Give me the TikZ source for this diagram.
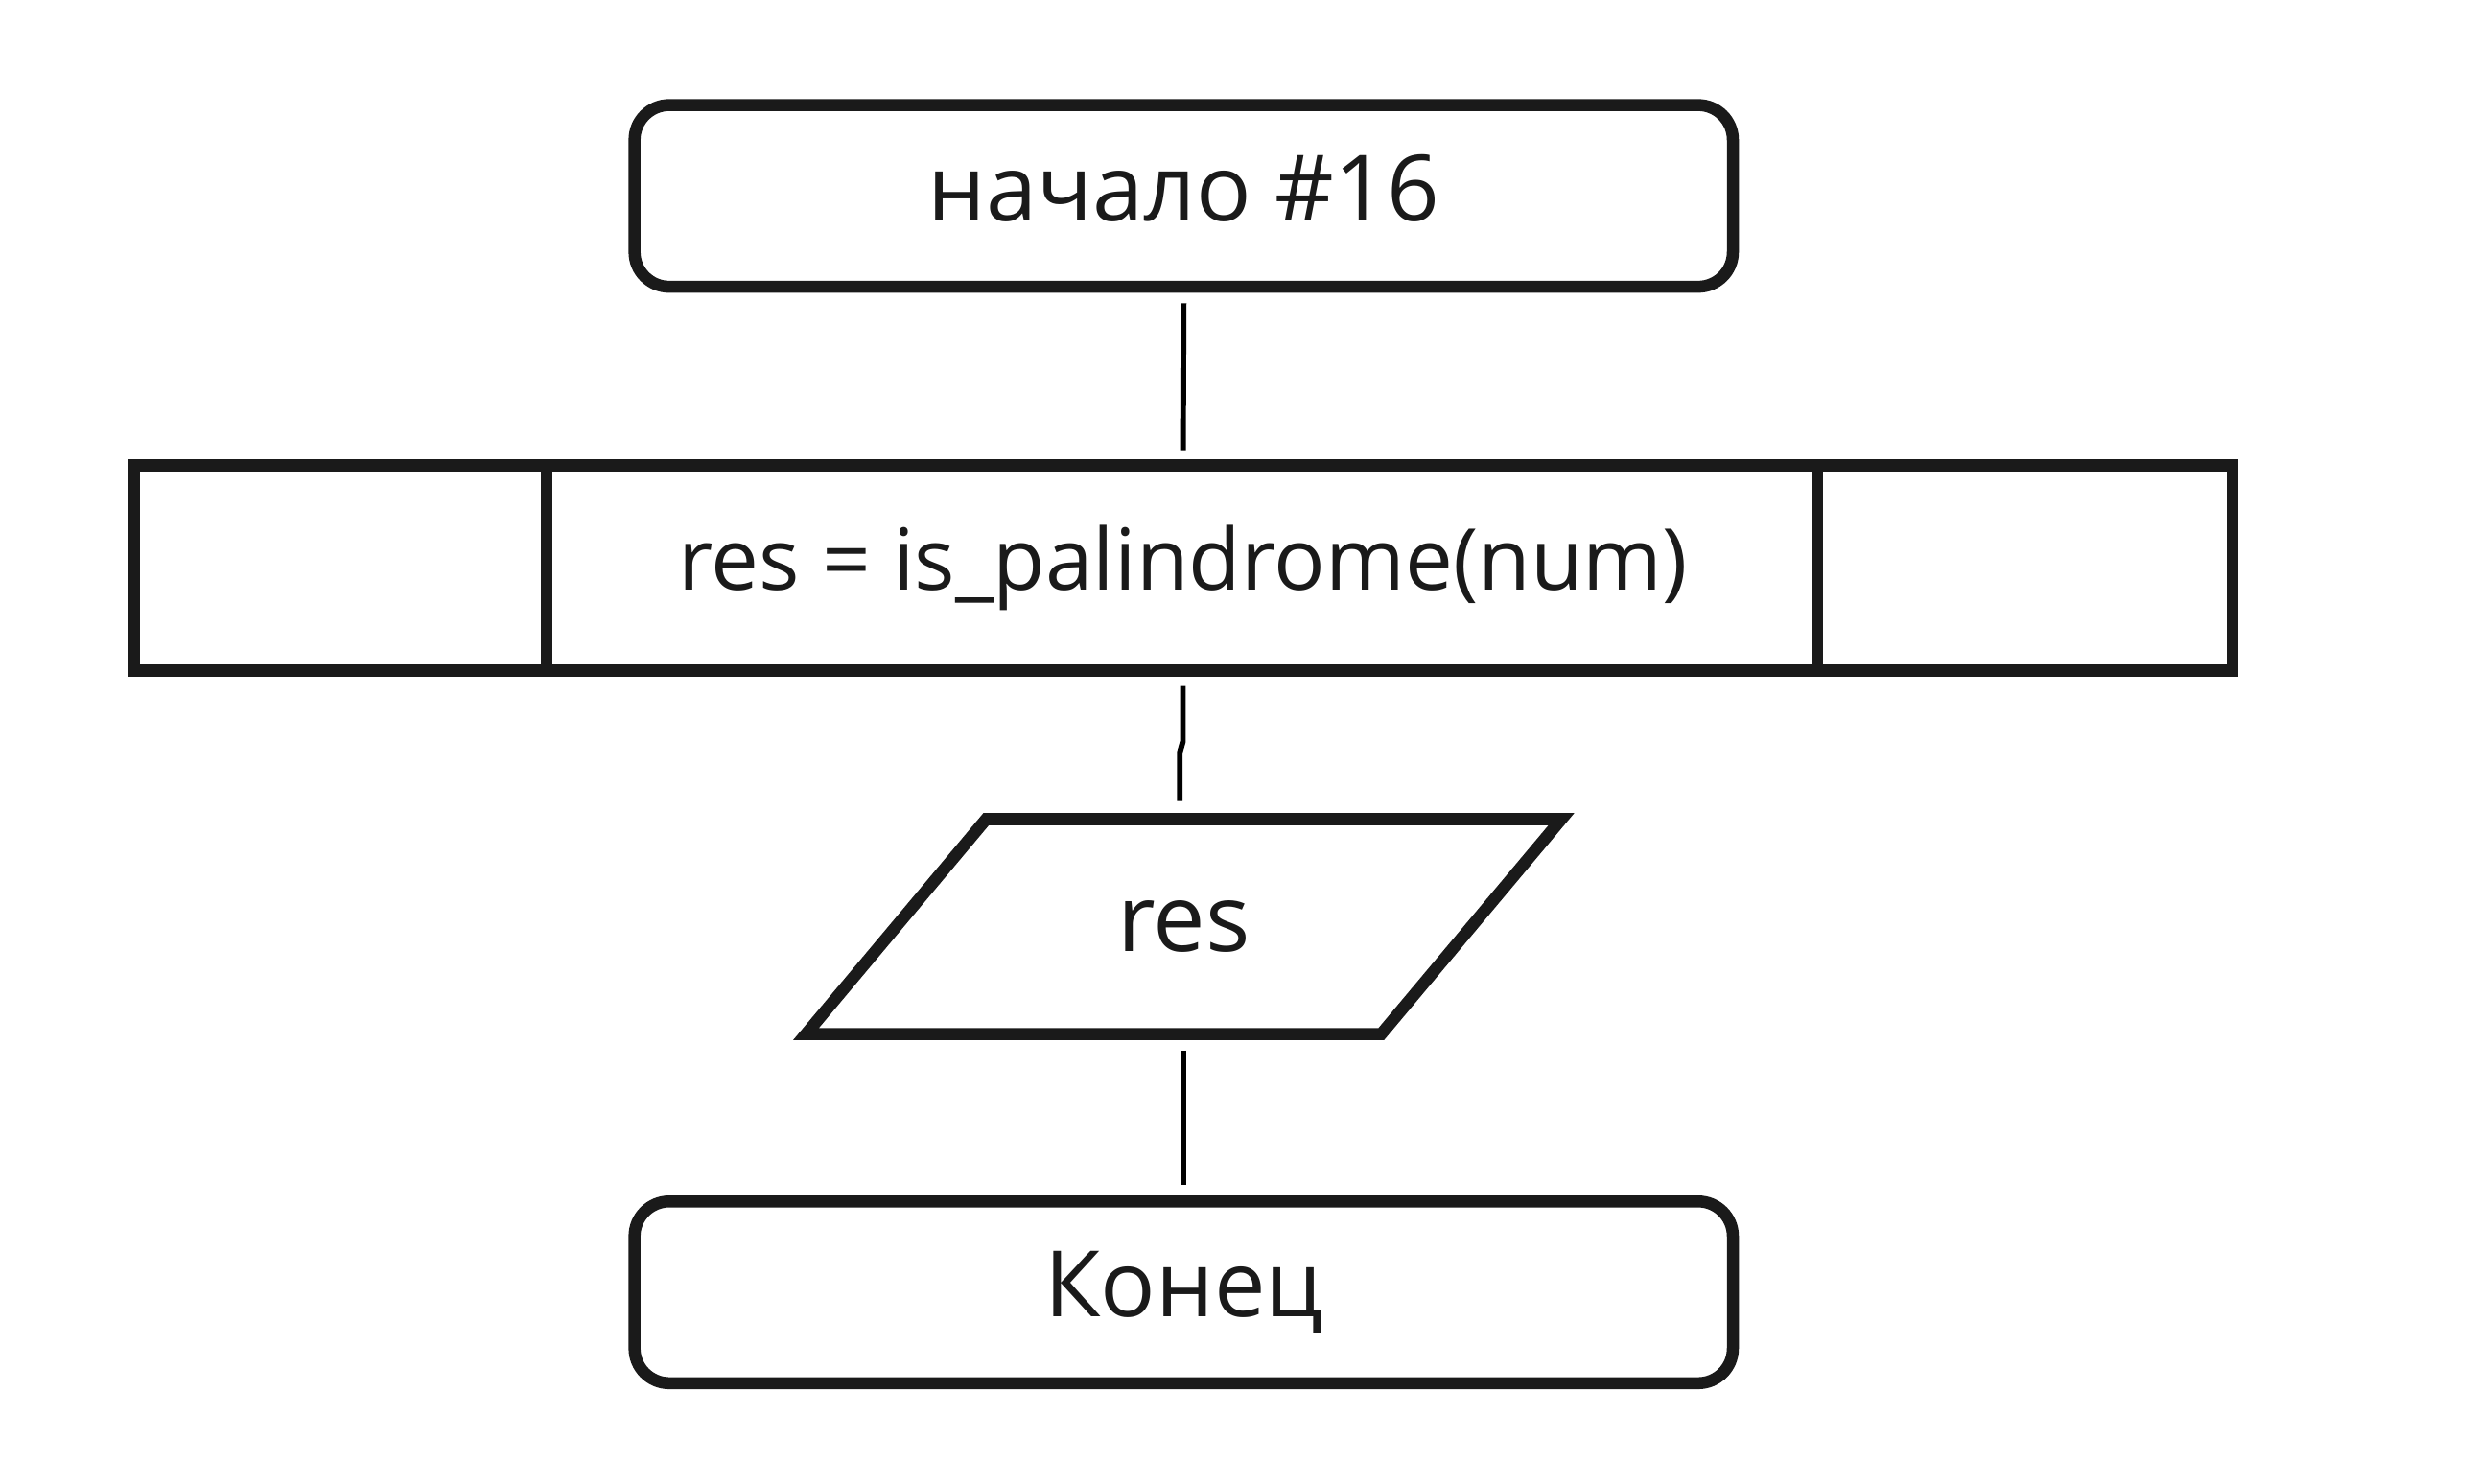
\documentclass[tikz,border=0pt]{standalone}
\usepackage{fontspec}
\setmainfont{Open Sans}
\usetikzlibrary{calc}
\definecolor{ink}{HTML}{1A1A1A}
\begin{document}
\begin{tikzpicture}[x=0.5pt,y=-0.5pt,
  box/.style={draw=ink, line width=3.8pt, text=ink, font=\fontsize{29}{35}\selectfont, inner sep=0pt},
  term/.style={box, rounded corners=11pt, minimum width=347.5pt, minimum height=57.5pt},
  edge/.style={ink, line width=3.8pt},
  conn/.style={draw=black, line width=1.8pt}]
\useasboundingbox (0,0) rectangle (1568,938.74);
\node[term, text depth=5pt] (start) at (749,124) {начало \#16};
\node[box, font=\fontsize{27}{33}\selectfont, minimum width=664pt, minimum height=65pt] (proc) at (748.5,359.5) {res = is\_palindrome(num)};
\draw[edge] ([xshift=132.65pt]proc.north west) -- ([xshift=132.65pt]proc.south west);
\draw[edge] ([xshift=-133.15pt]proc.north east) -- ([xshift=-133.15pt]proc.south east);
\node[text=ink, font=\fontsize{29.5}{35}\selectfont, minimum height=68pt, minimum width=180pt, inner sep=0pt, outer sep=1.9pt] (io) at (749,586.5) {res};
\draw[edge] ($(io.center)+(-125,-68)$) -- ($(io.center)+(239,-68)$) -- ($(io.center)+(125,68)$) -- ($(io.center)+(-239,68)$) -- cycle;
\node[term] (end) at (749,818) {Конец};
\draw[conn, shorten <=3.35pt, shorten >=2.85pt] (start.south) -- (proc.north);
\draw[conn] ([yshift=-3pt]proc.south) -- ++(0,35) -- ++(-2,7) -- ([xshift=-1.25pt,yshift=3.85pt]io.north);
\draw[conn, shorten <=3.35pt, shorten >=3.35pt] (io.south) -- (end.north);
\end{tikzpicture}
\end{document}
